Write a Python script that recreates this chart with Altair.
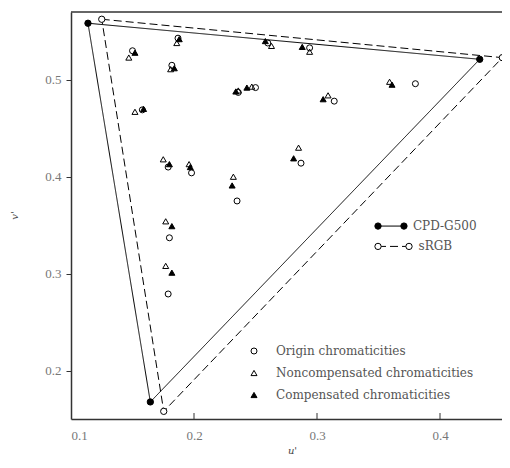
import altair as alt
import pandas as pd

# ---- gamut triangles (u', v'): green, red, blue ----
gamuts = ["CPD-G500", "sRGB"]
cpd_u = [0.1138, 0.4323, 0.1645]
cpd_v = [0.5584, 0.5212, 0.1676]
srgb_u = [0.1250, 0.4507, 0.1754]
srgb_v = [0.5625, 0.5229, 0.1579]

# ---- sample chromaticities ----
types = ["Origin chromaticities", "Noncompensated chromaticities", "Compensated chromaticities"]
origin_u = [0.187, 0.150, 0.182, 0.158, 0.179, 0.198, 0.235, 0.180, 0.179, 0.236, 0.250, 0.260, 0.294, 0.314, 0.380, 0.287]
origin_v = [0.543, 0.530, 0.515, 0.469, 0.410, 0.404, 0.375, 0.337, 0.279, 0.487, 0.492, 0.538, 0.533, 0.478, 0.496, 0.414]
noncomp_u = [0.186, 0.147, 0.181, 0.152, 0.175, 0.196, 0.232, 0.177, 0.177, 0.236, 0.247, 0.263, 0.294, 0.309, 0.359, 0.285]
noncomp_v = [0.538, 0.523, 0.511, 0.467, 0.418, 0.413, 0.400, 0.354, 0.308, 0.489, 0.493, 0.535, 0.529, 0.484, 0.498, 0.430]
comp_u = [0.188, 0.152, 0.184, 0.159, 0.180, 0.197, 0.231, 0.182, 0.182, 0.234, 0.243, 0.258, 0.288, 0.305, 0.361, 0.281]
comp_v = [0.542, 0.528, 0.512, 0.470, 0.413, 0.410, 0.391, 0.349, 0.301, 0.488, 0.492, 0.540, 0.534, 0.480, 0.495, 0.419]

x_ticks = [0.1, 0.2, 0.3, 0.4]
y_ticks = [0.2, 0.3, 0.4, 0.5]

# legend for gamut lines (in data units)
leg_u1 = [0.3496, 0.3496]
leg_u2 = [0.3707, 0.3748]
leg_v = [0.3491, 0.3281]
leg_text_u = [0.3780, 0.3825]

W, H = 431, 407
X_MAX = 0.1 + W / 1230.0
FONT = "DejaVu Serif"

# ---- build tables ----
tri_rows = []
for g, us, vs in [("CPD-G500", cpd_u, cpd_v), ("sRGB", srgb_u, srgb_v)]:
    for i, k in enumerate([0, 1, 2, 0]):
        tri_rows.append({"gamut": g, "u": us[k], "v": vs[k], "order": i})
tri = pd.DataFrame(tri_rows)
vert = tri[tri["order"] < 3]

pts_rows = []
for t, us, vs in [(types[0], origin_u, origin_v), (types[1], noncomp_u, noncomp_v), (types[2], comp_u, comp_v)]:
    for u, v in zip(us, vs):
        pts_rows.append({"type": t, "u": u, "v": v})
pts = pd.DataFrame(pts_rows)

leg = pd.DataFrame({"gamut": gamuts, "u1": leg_u1, "u2": leg_u2, "v": leg_v, "tu": leg_text_u})
leg_pts = pd.concat([
    pd.DataFrame({"gamut": gamuts, "u": leg_u1, "v": leg_v}),
    pd.DataFrame({"gamut": gamuts, "u": leg_u2, "v": leg_v}),
])
ticks_df = pd.DataFrame({"t": x_ticks[1:]})

xs = alt.Scale(domain=[0.1, X_MAX], nice=False, zero=False)
ys = alt.Scale(domain=[0.15, 0.57], nice=False, zero=False)
dash_scale = alt.Scale(domain=gamuts, range=[[1, 0], [8, 4]])
gamut_fill = alt.condition(alt.datum.gamut == "CPD-G500", alt.value("black"), alt.value("white"))

x_enc = alt.X("u:Q", scale=xs, axis=alt.Axis(
    values=x_ticks, format=".1f", tickSize=0, labelPadding=10, grid=False,
    labelFont="Liberation Serif", labelFontSize=13, labelColor="#777",
    domainColor="#333", domainWidth=1.5, title="u'", titleFont=FONT,
    titleFontStyle="italic", titleFontWeight="normal", titleFontSize=10,
    titleColor="#444", titleX=221, titlePadding=3))
y_enc = alt.Y("v:Q", scale=ys, axis=alt.Axis(
    values=y_ticks, format=".1f", tickSize=5, tickColor="#333", labelPadding=5, grid=False,
    labelFont="Liberation Serif", labelFontSize=13, labelColor="#777",
    domainColor="#333", domainWidth=1.5, title="v'", titleFont=FONT,
    titleFontStyle="italic", titleFontWeight="normal", titleFontSize=10,
    titleColor="#444", titleX=-52, titleY=203))

lines = alt.Chart(tri).mark_line(color="black", strokeWidth=1).encode(
    x=x_enc, y=y_enc, detail="gamut:N", order="order:Q",
    strokeDash=alt.StrokeDash("gamut:N", scale=dash_scale, legend=None))

verts = alt.Chart(vert).mark_point(filled=True, shape="circle", size=40, stroke="black", strokeWidth=1, opacity=1).encode(
    x="u:Q", y="v:Q", fill=gamut_fill)

leg_cfg = dict(title=None, orient="none", legendX=177, legendY=333, padding=0,
               rowPadding=10, labelOffset=16, labelFont=FONT, labelFontSize=12, labelLimit=400,
               labelColor="#555", symbolSize=36, symbolStrokeWidth=1)

points = alt.Chart(pts).mark_point(filled=True, size=36, strokeWidth=1, opacity=1).encode(
    x="u:Q", y="v:Q",
    shape=alt.Shape("type:N", sort=types,
                    scale=alt.Scale(domain=types, range=["circle", "triangle-up", "triangle-up"]),
                    legend=alt.Legend(**leg_cfg)),
    fill=alt.Fill("type:N", sort=types,
                  scale=alt.Scale(domain=types, range=["transparent", "transparent", "black"]),
                  legend=alt.Legend(**leg_cfg)),
    stroke=alt.Stroke("type:N", sort=types,
                      scale=alt.Scale(domain=types, range=["black", "black", "black"]),
                      legend=alt.Legend(**leg_cfg)))

inner_ticks = alt.Chart(ticks_df).mark_rule(color="#333", strokeWidth=1).encode(
    x="t:Q", y=alt.value(H), y2=alt.value(H - 6))

top_frame = alt.Chart(ticks_df.head(1)).mark_rule(color="#333", strokeWidth=1.5).encode(
    x=alt.value(0), x2=alt.value(W + 20), y=alt.value(0))

leg_lines = alt.Chart(leg).mark_rule(color="black", strokeWidth=1).encode(
    x="u1:Q", x2="u2:Q", y="v:Q",
    strokeDash=alt.StrokeDash("gamut:N", scale=dash_scale, legend=None))
leg_marks = alt.Chart(leg_pts).mark_point(filled=True, shape="circle", size=40, stroke="black", strokeWidth=1, opacity=1).encode(
    x="u:Q", y="v:Q", fill=gamut_fill)
leg_text = alt.Chart(leg).mark_text(align="left", baseline="middle", font=FONT, fontSize=12, color="#555").encode(
    x="tu:Q", y="v:Q", text="gamut:N")

chart = alt.layer(lines, verts, points, inner_ticks, top_frame, leg_lines, leg_marks, leg_text).properties(
    width=W, height=H,
    autosize=alt.AutoSizeParams(type="none"),
    padding={"left": 63, "top": 4, "right": 0, "bottom": 41},
).configure_view(stroke=None)

chart.save("out.html", embed_options={"renderer": "svg", "actions": False})
